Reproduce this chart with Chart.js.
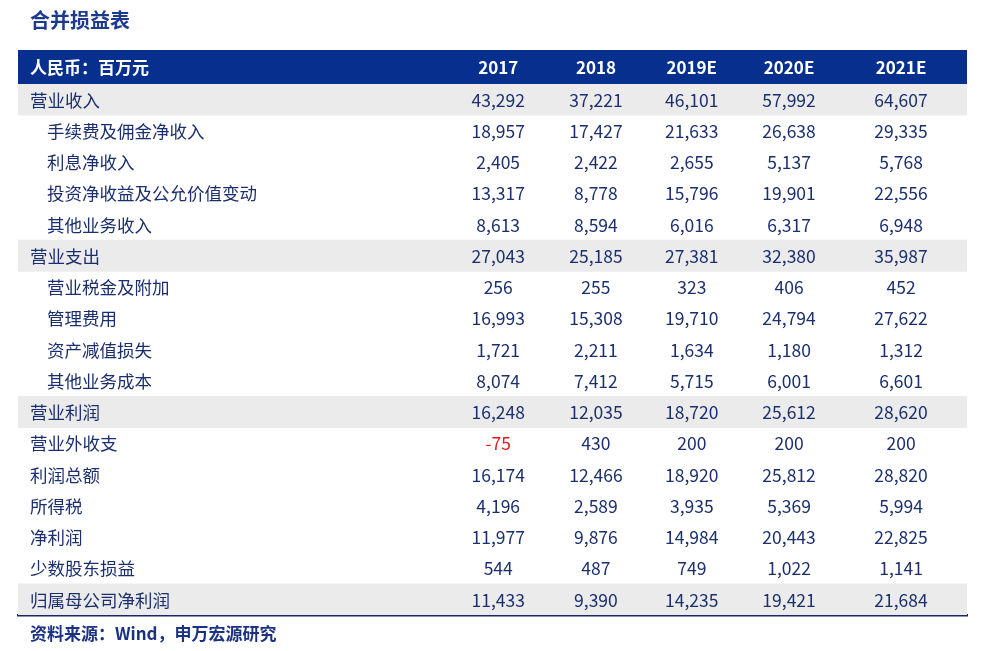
<!DOCTYPE html>
<html>
<head>
<meta charset="utf-8">
<script src="https://cdn.jsdelivr.net/npm/chart.js@4"></script>
<style>
  html, body { margin: 0; padding: 0; background: #ffffff; }
  #wrap { position: relative; width: 990px; height: 651px; }
</style>
</head>
<body>
<div id="wrap"><canvas id="incomeTable"></canvas></div>
<script>
// ======================================================
// DATA
// ======================================================
const tableTitle = "合并损益表";
const unitLabel = "人民币：百万元";
const sourceNote = "资料来源：Wind，申万宏源研究";

const years = ["2017", "2018", "2019E", "2020E", "2021E"];

const rowLabels = [
    "营业收入", "手续费及佣金净收入", "利息净收入", "投资净收益及公允价值变动", "其他业务收入",
    "营业支出", "营业税金及附加", "管理费用", "资产减值损失", "其他业务成本",
    "营业利润", "营业外收支", "利润总额", "所得税", "净利润", "少数股东损益", "归属母公司净利润"
];

const v2017  = [43292, 18957, 2405, 13317, 8613, 27043, 256, 16993, 1721, 8074, 16248, -75, 16174, 4196, 11977, 544, 11433];
const v2018  = [37221, 17427, 2422, 8778, 8594, 25185, 255, 15308, 2211, 7412, 12035, 430, 12466, 2589, 9876, 487, 9390];
const v2019E = [46101, 21633, 2655, 15796, 6016, 27381, 323, 19710, 1634, 5715, 18720, 200, 18920, 3935, 14984, 749, 14235];
const v2020E = [57992, 26638, 5137, 19901, 6317, 32380, 406, 24794, 1180, 6001, 25612, 200, 25812, 5369, 20443, 1022, 19421];
const v2021E = [64607, 29335, 5768, 22556, 6948, 35987, 452, 27622, 1312, 6601, 28620, 200, 28820, 5994, 22825, 1141, 21684];

// sub-items are indented, totals get the grey band
const indentedRows = [1, 2, 3, 4, 6, 7, 8, 9];
const shadedRows = [0, 5, 10, 16];


// ======================================================
// LAYOUT / STYLE
// ======================================================
const columns = [v2017, v2018, v2019E, v2020E, v2021E];
const colCentre = [50.6, 60.9, 71.0, 81.25, 93.05];   // % of table width
const labelPos = 1.26;
const indentPos = 3.05;
const headerHeight = 34;

const navy = "#1b2f6e";
const headerBlue = "#062f8e";
const bandGrey = "#ebebeb";
const negRed = "#e31b1b";
const fontFamily = "'Noto Sans CJK SC', 'Noto Sans', sans-serif";


// ======================================================
// TEXT PLUGIN
// ======================================================
const tableTextPlugin = {

    id: "tableText",

    afterDatasetsDraw(chart) {

        const { ctx, chartArea, scales: { x, y } } = chart;

        ctx.save();

        // header band
        ctx.fillStyle = headerBlue;
        ctx.fillRect(chartArea.left, chartArea.top - headerHeight,
            chartArea.right - chartArea.left, headerHeight);

        ctx.textBaseline = "middle";
        const headY = chartArea.top - headerHeight / 2 + 1;

        ctx.fillStyle = "#ffffff";
        ctx.font = "bold 17px " + fontFamily;
        ctx.textAlign = "left";
        ctx.fillText(unitLabel, x.getPixelForValue(labelPos), headY);

        ctx.textAlign = "center";
        years.forEach((yr, c) => {
            ctx.fillText(yr, x.getPixelForValue(colCentre[c]), headY);
        });

        // body rows
        ctx.font = "17.5px " + fontFamily;

        rowLabels.forEach((label, r) => {

            const py = y.getPixelForValue(r) + 0.5;

            ctx.fillStyle = navy;
            ctx.textAlign = "left";
            const lx = indentedRows.includes(r) ? indentPos : labelPos;
            ctx.fillText(label, x.getPixelForValue(lx), py);

            ctx.textAlign = "center";
            columns.forEach((series, c) => {
                const val = series[r];
                ctx.fillStyle = val < 0 ? negRed : navy;
                ctx.fillText(val.toLocaleString("en-US"), x.getPixelForValue(colCentre[c]), py);
            });

        });

        // title + source
        ctx.textAlign = "left";
        ctx.fillStyle = "#1d3a8f";
        ctx.font = "bold 20px " + fontFamily;
        ctx.fillText(tableTitle, x.getPixelForValue(labelPos), 20);

        ctx.fillStyle = "#1b3282";
        ctx.font = "bold 17px " + fontFamily;
        ctx.fillText(sourceNote, x.getPixelForValue(labelPos), 634);

        ctx.restore();

    }

};


// ======================================================
// CHART
// ======================================================
new Chart(document.getElementById("incomeTable"), {

    type: "bar",

    data: {

        labels: rowLabels,

        datasets: [{

            data: rowLabels.map((_, i) => shadedRows.includes(i) ? [0, 100] : null),

            backgroundColor: bandGrey,

            borderWidth: 0,

            barPercentage: 1,

            categoryPercentage: 1

        }]

    },

    options: {

        indexAxis: "y",

        responsive: true,

        maintainAspectRatio: false,

        animation: false,

        layout: {
            padding: { top: 84, left: 18, right: 23, bottom: 36 }
        },

        plugins: {
            legend: { display: false },
            tooltip: { enabled: false }
        },

        scales: {

            x: {
                type: "linear",
                min: 0,
                max: 100,
                position: "bottom",
                ticks: { display: false },
                grid: { display: false, drawTicks: false },
                border: { display: true, color: "#17296e", width: 2.5 }
            },

            y: {
                type: "category",
                offset: true,
                display: false
            }

        }

    },

    plugins: [tableTextPlugin]

});
</script>
</body>
</html>
